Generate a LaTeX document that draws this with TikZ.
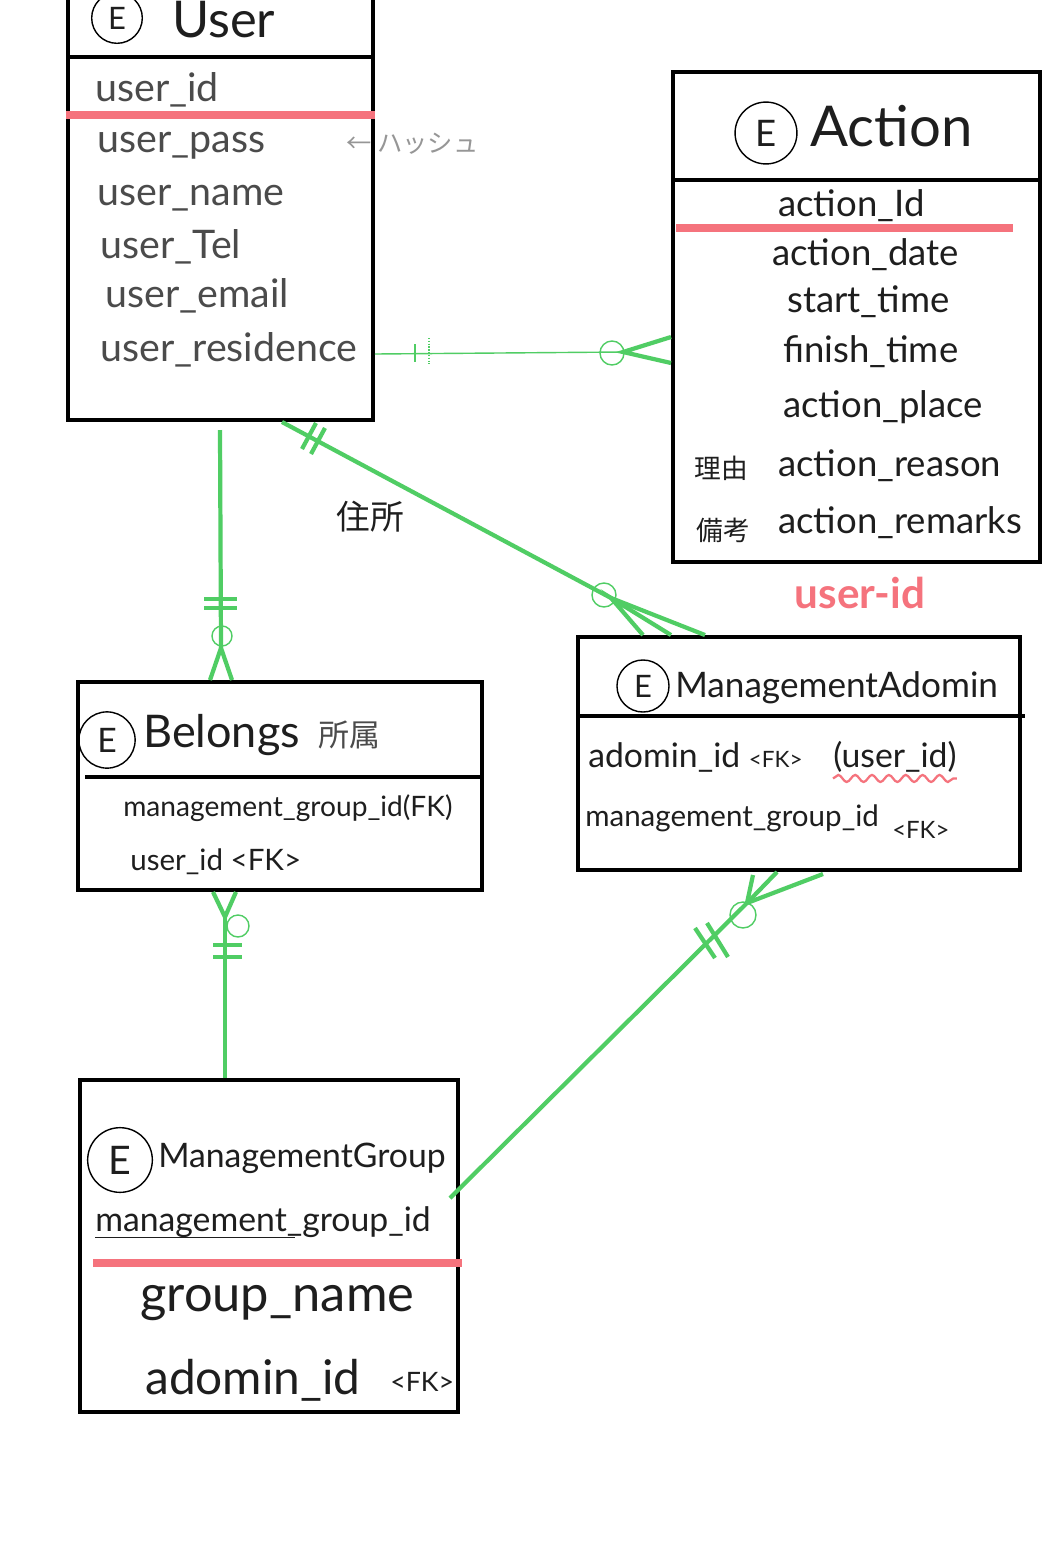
\documentclass[tikz,border=0pt]{standalone}
\usepackage{fontspec}
\setmainfont{Lato}
\newfontfamily\jp{Noto Sans CJK JP}
\usetikzlibrary{fit,calc,decorations.pathmorphing}
\definecolor{erg}{RGB}{80,205,100}
\definecolor{pkred}{RGB}{245,115,125}
\definecolor{ink}{RGB}{30,30,30}
\definecolor{pencil}{RGB}{75,75,75}
\definecolor{faint}{RGB}{150,150,150}
\newcommand\setfs[1]{\fontsize{#1}{#1}\selectfont}
\begin{document}
\begin{tikzpicture}[x=0.025cm,y=-0.025cm,
  box/.style={draw=black,line width=2.8pt,inner sep=0pt},
  divider/.style={draw=black,line width=2.8pt},
  pkline/.style={draw=pkred,line width=5.6pt},
  lnk/.style={draw=erg,line width=3pt},
  thinlnk/.style={draw=erg,line width=1pt},
  ringmark/.style={draw=erg,line width=1pt},
  attr/.style={anchor=west,inner sep=0pt,text=ink},
  ecirc/.style={circle,draw=black,line width=1pt,inner sep=0pt,text=ink}]
\useasboundingbox (0,0) rectangle (1046,1567);
\fill[white] (0,0) rectangle (1046,1567);

% ---------- boxes ----------
\node[box,fit={(68,-20) (373,420)}] (user) {};
\node[box,fit={(673,72) (1040,562)}] (action) {};
\node[box,fit={(578,637) (1020,870)}] (madmin) {};
\node[box,fit={(78,682) (482,890)}] (belongs) {};
\node[box,fit={(80,1080) (458,1412)}] (mgroup) {};

% dividers
\draw[divider] (user.west |- 0,57) -- (user.east |- 0,57);
\draw[divider] (action.west |- 0,180) -- (action.east |- 0,180);
\draw[divider] (madmin.west |- 0,716) -- (1025,716);
\draw[divider] (85,777) -- (belongs.east |- 0,777);

% primary key marks
\draw[pkline] (user.west |- 0,115) -- (375,115);
\draw[pkline] (676,228) -- (1013,228);
\draw[pkline] (93,1263) -- (462,1263);

% ---------- User ----------
\node[ecirc,minimum size=36pt,font=\setfs{22pt}] (ue) at (117,18) {E};
\node[attr,font=\setfs{36pt}] (ut) at (172,20) {User};
\begin{scope}[every node/.style={attr,text=pencil,font=\setfs{28pt}}]
\node (u1) at (95,90) {user\_id};
\node (u2) at (97,146) {user\_pass};
\node (u3) at (97,198) {user\_name};
\node (u4) at (100,247) {user\_Tel};
\node (u5) at (105,296) {user\_email};
\node (u6) at (100,350) {user\_residence};
\end{scope}
\node[attr,text=faint,font=\jp\setfs{18pt}] (hash) at (346,144) {← ハッシュ};

% ---------- Action ----------
\node[ecirc,minimum size=44pt,font=\setfs{26pt}] (ae) at (766,133) {E};
\node[attr,font=\setfs{40pt}] (at) at (810,126) {Action};
\begin{scope}[every node/.style={attr,font=\setfs{26pt}}]
\node (a1) at (778,206) {action\_Id};
\node (a2) at (772,255) {action\_date};
\node (a3) at (787,302) {start\_time};
\node (a4) at (783,352) {finish\_time};
\node (a5) at (783,407) {action\_place};
\node (a6) at (778,466) {action\_reason};
\node (a7) at (778,523) {action\_remarks};
\end{scope}
\node[attr,font=\jp\setfs{19pt}] (a6j) at (694,468) {理由};
\node[attr,font=\jp\setfs{19pt}] (a7j) at (696,530) {備考};
\node[text=pkred,font=\bfseries\setfs{30pt},inner sep=0pt] (redid) at (860,593) {user-id};

% ---------- ManagementAdomin ----------
\node[ecirc,minimum size=37pt,font=\setfs{22pt}] (me) at (643,686) {E};
\node[attr,font=\setfs{25pt}] (mt) at (675,688) {ManagementAdomin};
\node[attr,font=\setfs{24pt}] (m1) at (588,757) {adomin\_id {\setfs{16pt}<FK>}};
\node[attr,font=\setfs{24pt}] (m1u) at (833,757) {(user\_id)};
\draw[draw=pkred,line width=1.6pt,decorate,decoration={snake,amplitude=2.5,segment length=12}]
  ([yshift=-4pt]m1u.south west) -- ([yshift=-4pt]m1u.south east);
\node[attr,font=\setfs{21pt}] (m2) at (585,818) {management\_group\_id};
\node[attr,font=\setfs{17pt}] (m2fk) at (892,830) {<FK>};

% ---------- Belongs ----------
\node[ecirc,minimum size=40pt,font=\setfs{24pt}] (be) at (107,740) {E};
\node[attr,font=\setfs{32pt}] (bt) at (143,735) {Belongs};
\node[attr,text=pencil,font=\jp\setfs{22pt}] (btj) at (318,735) {所属};
\node[attr,font=\setfs{20pt}] (b1) at (123,808) {management\_group\_id(FK)};
\node[attr,font=\setfs{21pt}] (b2) at (130,862) {user\_id <FK>};

% ---------- ManagementGroup ----------
\node[ecirc,minimum size=46pt,font=\setfs{28pt}] (ge) at (120,1160) {E};
\node[attr,font=\setfs{24pt}] (gt) at (158,1158) {ManagementGroup};
\node[attr,font=\setfs{24pt}] (g1) at (95,1222) {management\_group\_id};
\draw[ink,line width=0.8pt] (g1.south west) -- ++(200,0);
\node[attr,font=\setfs{36pt}] (g2) at (140,1303) {group\_name};
\node[attr,font=\setfs{34pt}] (g3) at (145,1380) {adomin\_id};
\node[attr,font=\setfs{19pt}] (g3fk) at (390,1382) {<FK>};

\node[font=\jp\setfs{24pt},text=ink] (addr) at (370,517) {住所};

% ---------- connectors ----------
% User -- Action  (one to zero-or-many)
\coordinate (uaC) at (623,352);
\draw[thinlnk] (user.east |- 0,354) -- (uaC);
\draw[thinlnk] (415,344) -- (415,362);
\draw[thinlnk,densely dotted] (429,338) -- (429,364);
\draw[ringmark] (612,353) circle (12);
\draw[lnk] (action.west |- 0,337) -- (uaC) -- (action.west |- 0,363);

% User -- Belongs
\coordinate (ubC) at (221,648);
\draw[lnk] (220,430) -- (ubC);
\draw[lnk] (204,599) -- (237,599);
\draw[lnk] (204,608) -- (237,608);
\draw[ringmark] (222,636) circle (10);
\draw[lnk] (belongs.north -| 210,0) -- (ubC) -- (belongs.north -| 232,0);

% User -- ManagementAdomin
\coordinate (umC) at (611,598);
\draw[lnk] (282,422) -- (umC);
\draw[lnk] ($(309,436)+(-7,13)$) -- ($(309,436)+(7,-13)$);
\draw[lnk] ($(318,441)+(-7,13)$) -- ($(318,441)+(7,-13)$);
\draw[ringmark] (604,595) circle (12);
\draw[lnk] (madmin.north -| 643,0) -- (umC) -- (madmin.north -| 671,0);
\draw[lnk] (umC) -- (madmin.north -| 705,0);

% Belongs -- ManagementGroup
\coordinate (bgC) at (225,917);
\draw[lnk] (mgroup.north -| 225,0) -- (bgC);
\draw[lnk] (belongs.south -| 213,0) -- (bgC) -- (belongs.south -| 236,0);
\draw[ringmark] (238,926) circle (11);
\draw[lnk] (213,945) -- (242,945);
\draw[lnk] (213,957) -- (242,957);

% ManagementAdomin -- ManagementGroup
\coordinate (mgC) at (747,903);
\draw[lnk] (450,1198) -- (mgC);
\draw[lnk] (mgC) -- (753,875);
\draw[lnk] (mgC) -- (madmin.south -| 777,0);
\draw[lnk] (mgC) -- (823,874);
\draw[ringmark] (743,915) circle (13);
\draw[lnk] (695,928) -- (715,958);
\draw[lnk] (707,923) -- (728,957);
\end{tikzpicture}
\end{document}
